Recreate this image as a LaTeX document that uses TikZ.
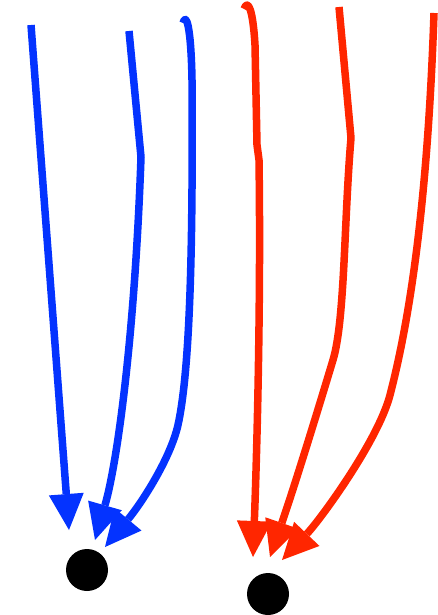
\documentclass[tikz,border=0pt]{standalone}
\usetikzlibrary{arrows.meta}
\definecolor{flowblue}{RGB}{4,51,255}
\definecolor{flowred}{RGB}{255,38,0}

\begin{document}
\begin{tikzpicture}[
  x=1pt, y=-1pt,
  dot/.style={circle, fill=black, inner sep=0pt, minimum size=42pt},
  arr/.style={-{Triangle[length=36pt, width=35pt, line width=0pt]},
              line width=7.5pt, line join=round},
  bluearr/.style={arr, draw=flowblue},
  redarr/.style={arr, draw=flowred}
]
  \useasboundingbox (0,0) rectangle (438,615);

  %% Targets
  \node[dot] (blueDot) at (87,570) {};
  \node[dot] (redDot) at (268,594) {};

  %% Start and end points
  \coordinate (b1s) at (31,25);
  \coordinate (b2s) at (129,31);
  \coordinate (b3s) at (183,23);
  \coordinate (r1s) at (244,9);
  \coordinate (r2s) at (339,7);
  \coordinate (r3s) at (434,13);
  \coordinate (b1t) at ([shift={(-18,-40)}]blueDot.center);
  \coordinate (b2t) at ([shift={(8,-30)}]blueDot.center);
  \coordinate (b3t) at ([shift={(18,-23)}]blueDot.center);
  \coordinate (r1t) at ([shift={(-15,-37)}]redDot.center);
  \coordinate (r2t) at ([shift={(2,-37)}]redDot.center);
  \coordinate (r3t) at ([shift={(14,-34)}]redDot.center);

  %% Blue arrows
  \draw[bluearr] (b1s) -- (b1t);
  \draw[bluearr] (b2s) -- (141,157) .. controls (135,330) and (118,460) .. (b2t);
  \draw[bluearr] (b3s) .. controls (186,12) and (191,25) .. (192,80)
    .. controls (193,250) and (190,370) .. (178,425)
    .. controls (170,460) and (140,505) .. (b3t);

  %% Red arrows
  \draw[redarr] (r1s) .. controls (248,-2) and (253,10) .. (255,45)
    -- (257,145) -- (259,160) .. controls (261,300) and (257,450) .. (r1t);
  \draw[redarr] (r2s) -- (351,138) .. controls (344,220) and (345,320) .. (333,360)
    .. controls (324,390) and (296,482) .. (r2t);
  \draw[redarr] (r3s) .. controls (430,130) and (420,280) .. (390,395)
    .. controls (378,441) and (320,520) .. (r3t);

\end{tikzpicture}
\end{document}
